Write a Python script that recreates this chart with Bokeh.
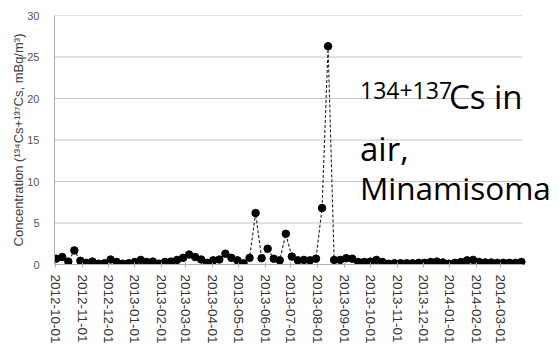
import pandas as pd
from bokeh.plotting import figure
from bokeh.models import Range1d, FixedTicker, DatetimeTickFormatter, Label, ColumnDataSource
from bokeh.embed import file_html
from bokeh.resources import INLINE

# ---- data ----
dates = [
    "2012-10-02", "2012-10-09", "2012-10-16", "2012-10-23", "2012-10-30",
    "2012-11-06", "2012-11-13", "2012-11-20", "2012-11-27",
    "2012-12-04", "2012-12-11", "2012-12-18", "2012-12-25",
    "2013-01-01", "2013-01-08", "2013-01-15", "2013-01-22", "2013-01-29",
    "2013-02-05", "2013-02-12", "2013-02-19", "2013-02-26",
    "2013-03-05", "2013-03-12", "2013-03-19", "2013-03-26",
    "2013-04-02", "2013-04-09", "2013-04-16", "2013-04-23", "2013-04-30",
    "2013-05-07", "2013-05-14", "2013-05-21", "2013-05-28",
    "2013-06-04", "2013-06-11", "2013-06-18", "2013-06-25",
    "2013-07-02", "2013-07-09", "2013-07-16", "2013-07-23", "2013-07-30",
    "2013-08-06", "2013-08-13", "2013-08-20", "2013-08-27",
    "2013-09-03", "2013-09-10", "2013-09-17", "2013-09-24",
    "2013-10-01", "2013-10-08", "2013-10-15", "2013-10-22", "2013-10-29",
    "2013-11-05", "2013-11-12", "2013-11-19", "2013-11-26",
    "2013-12-03", "2013-12-10", "2013-12-17", "2013-12-24", "2013-12-31",
    "2014-01-07", "2014-01-14", "2014-01-21", "2014-01-28",
    "2014-02-04", "2014-02-11", "2014-02-18", "2014-02-25",
    "2014-03-04", "2014-03-11", "2014-03-18", "2014-03-25",
]
cs_conc = [
    0.7, 0.9, 0.35, 1.7, 0.45,
    0.2, 0.35, 0.1, 0.15,
    0.6, 0.3, 0.1, 0.15,
    0.3, 0.55, 0.3, 0.35, 0.1,
    0.3, 0.35, 0.55, 0.8,
    1.2, 0.9, 0.6, 0.2,
    0.5, 0.6, 1.3, 0.8, 0.5,
    0.15, 0.8, 6.2, 0.75,
    1.9, 0.7, 0.5, 3.7,
    0.95, 0.5, 0.55, 0.5, 0.7,
    6.8, 26.3, 0.55, 0.55,
    0.75, 0.7, 0.3, 0.3,
    0.35, 0.55, 0.3, 0.1, 0.15,
    0.15, 0.15, 0.15, 0.2,
    0.2, 0.3, 0.35, 0.25, 0.1,
    0.2, 0.3, 0.5, 0.55,
    0.3, 0.25, 0.25, 0.2,
    0.2, 0.2, 0.2, 0.3,
]
tick_labels = [
    "2012-10-01", "2012-11-01", "2012-12-01", "2013-01-01", "2013-02-01",
    "2013-03-01", "2013-04-01", "2013-05-01", "2013-06-01", "2013-07-01",
    "2013-08-01", "2013-09-01", "2013-10-01", "2013-11-01", "2013-12-01",
    "2014-01-01", "2014-02-01", "2014-03-01",
]
y_ticks = [0, 5, 10, 15, 20, 25, 30]

axis_start = pd.Timestamp("2012-09-30")
axis_end = pd.Timestamp("2014-03-26")
view_end = pd.Timestamp("2014-05-07")

src = ColumnDataSource(dict(date=pd.to_datetime(dates), conc=cs_conc))

p = figure(
    width=558, height=350,
    x_axis_type="datetime",
    x_range=Range1d(axis_start, view_end),
    y_range=Range1d(0, 30),
    output_backend="svg", toolbar_location=None,
    min_border_left=54, min_border_right=0, min_border_top=15, min_border_bottom=86,
)
p.outline_line_color = None
p.background_fill_color = "white"
p.border_fill_color = "white"

# horizontal gridlines only across the plotting area
grid_y = y_ticks[1:]
p.segment(x0=[axis_start] * len(grid_y), x1=[axis_end] * len(grid_y), y0=grid_y, y1=grid_y,
          line_color="#c4c4c4", line_width=1)

p.line("date", "conc", source=src, line_color="#222222", line_width=1.1, line_dash="3 2")
p.scatter("date", "conc", source=src, size=7.5, fill_color="black", line_color="black")

# axes
tick_ms = [pd.Timestamp(t).value / 1e6 for t in tick_labels]
p.xaxis.ticker = FixedTicker(ticks=tick_ms)
p.xaxis.bounds = (axis_start, axis_end)
fmt = "%Y-%m-%d"
p.xaxis.formatter = DatetimeTickFormatter(
    milliseconds=fmt, seconds=fmt, minsec=fmt, minutes=fmt, hourmin=fmt,
    hours=fmt, days=fmt, months=fmt, years=fmt)
p.xaxis.major_label_orientation = "vertical"
p.xaxis.major_label_text_font = "Liberation Sans"
p.xaxis.major_label_text_font_size = "13.5px"
p.xaxis.major_label_text_color = "#333333"
p.xaxis.axis_line_color = "#b0b0b0"
p.xaxis.major_tick_line_color = "#b0b0b0"
p.xaxis.major_tick_in = 2
p.xaxis.major_tick_out = 3
p.xaxis.minor_tick_line_color = None
p.xaxis.major_label_standoff = 7

p.yaxis.ticker = FixedTicker(ticks=y_ticks)
p.yaxis.major_label_text_font = "Liberation Sans"
p.yaxis.major_label_text_font_size = "11px"
p.yaxis.major_label_text_color = "#555555"
p.yaxis.axis_line_color = "#b0b0b0"
p.yaxis.major_tick_line_color = None
p.yaxis.minor_tick_line_color = None
p.yaxis.major_label_standoff = 9
p.yaxis.axis_label = "Concentration (\u00b9\u00b3\u2074Cs+\u00b9\u00b3\u2077Cs, mBq/m\u00b3)"
p.yaxis.axis_label_text_font = "Liberation Sans"
p.yaxis.axis_label_text_font_size = "13px"
p.yaxis.axis_label_text_font_style = "normal"
p.yaxis.axis_label_text_color = "#404040"
p.yaxis.axis_label_standoff = -2

p.xgrid.grid_line_color = None
p.ygrid.grid_line_color = None

# annotation text
font = "Open Sans"
p.add_layout(Label(x=pd.Timestamp("2013-09-19"), y=21.0, text="134+137", text_font=font,
                   text_font_size="23px", text_color="black", text_baseline="alphabetic"))
p.add_layout(Label(x=pd.Timestamp("2013-12-31"), y=20.25, text="Cs in", text_font=font,
                   text_font_size="33px", text_color="black", text_baseline="alphabetic"))
p.add_layout(Label(x=pd.Timestamp("2013-09-19"), y=14.0, text="air,", text_font=font,
                   text_font_size="33px", text_color="black", text_baseline="alphabetic"))
p.add_layout(Label(x=pd.Timestamp("2013-09-19"), y=9.3, text="Minamisoma", text_font=font,
                   text_font_size="31.5px", text_color="black", text_baseline="alphabetic"))

open("out.html", "w").write(file_html(p, INLINE))
